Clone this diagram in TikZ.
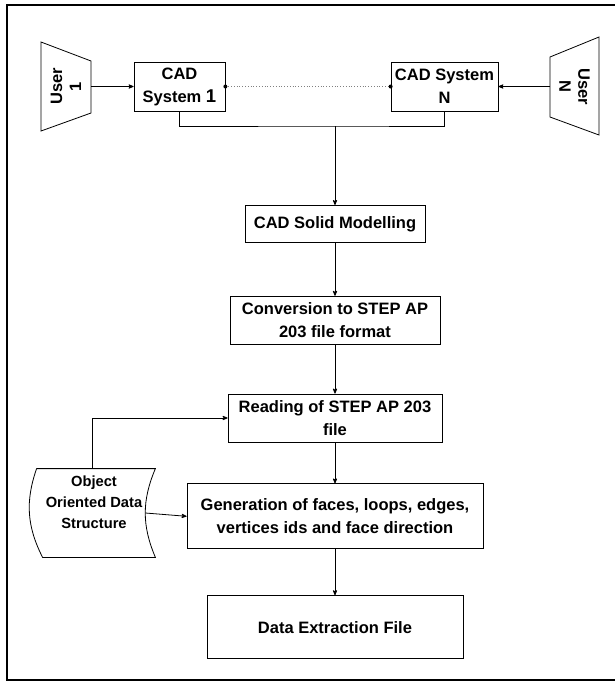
\documentclass[tikz,border=0pt]{standalone}
\usepackage{fontspec}
\setmainfont{Liberation Sans}
\usepackage{tikz}
\usetikzlibrary{arrows, positioning}

\begin{document}
\begin{tikzpicture}[->, >=stealth', x=1pt, y=-1pt, line width=0.8pt]
    \tikzstyle{state} = [draw, text centered, align=center, inner sep=2pt, font=\fontsize{16.5}{23}\selectfont\bfseries]
    \tikzstyle{user} = [text centered, align=center, inner sep=0pt, font=\fontsize{16.5}{19}\selectfont\bfseries]
    \useasboundingbox (0,0) rectangle (615,681);
    \draw[-, line width=2pt] (7,5) rectangle (618,680);
    % users and CAD systems
    \node [user, rotate=90, minimum width=52pt, minimum height=50pt] at (66,86.5) (userone) {User\\1};
    \node [user, rotate=-90, minimum width=60pt, minimum height=49pt] at (574.5,86.5) (usern) {User\\N};
    \draw[-] (41,42) -- (91,61) -- (91,113) -- (41,131) -- cycle;
    \draw[-] (550,57) -- (599,37) -- (599,135) -- (550,117) -- cycle;
    \node [state, minimum width=91pt, minimum height=49pt] at (179.5,86.5) (cadone) {CAD\\System {\fontsize{18.5}{23}\selectfont 1}};
    \node [state, minimum width=107pt, minimum height=49pt] at (444.5,86.5) (cadn) {CAD System\\N};
    \coordinate (merge) at (335,126);
    % main chain
    \node [state, minimum width=180pt, minimum height=37pt, below=79pt of merge] (solid) {CAD Solid Modelling};
    \node [state, minimum width=210pt, minimum height=48pt, below=53pt of solid] (conv) {Conversion to STEP AP\\203 file format};
    \node [state, minimum width=214pt, minimum height=48pt, below=49pt of conv] (read) {Reading of STEP AP 203\\file};
    \node [state, minimum width=296pt, minimum height=65pt, below=41pt of read] (gen) {Generation of faces, loops, edges,\\vertices ids and face direction};
    \node [state, minimum width=256pt, minimum height=63pt, below=46pt of gen] (data) {Data Extraction File};
    % data structure store
    \node [minimum width=118pt, minimum height=88pt, inner sep=0pt] at (96,513) (ood) {};
    \node [user, font=\fontsize{14.7}{21}\selectfont\bfseries] at (94,502) (oodtext) {Object\\Oriented Data\\Structure};
    \draw[-] (ood.north west) -- (ood.north east) to[bend right=23] (ood.south east) -- ([xshift=6pt]ood.south west) to[bend left=23] (ood.north west);
    \draw (userone.south) -- (cadone.west);
    \draw (usern.south) -- (cadn.east);
    \draw[-, dotted, gray] (cadone.east) -- (cadn.west);
    \fill (cadone.east) circle (2pt);
    \fill (cadn.west) circle (2pt);
    \draw[-] (cadone.south) |- (merge) -| (cadn.south);
    \draw (merge) -- (solid);
    \draw (solid) -- (conv);
    \draw (conv) -- (read);
    \draw (read) -- (gen);
    \draw (gen) -- (data);
    \draw ([xshift=-4pt]ood.north) |- (read.west);
    \draw ([xshift=-10pt]ood.east) -- (gen.west);
\end{tikzpicture}
\end{document}
